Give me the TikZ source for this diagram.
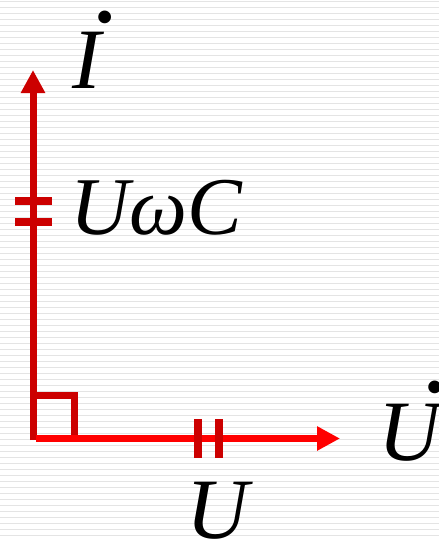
\documentclass[tikz,border=0pt]{standalone}
\usepackage{fontspec}
\setmainfont{Liberation Serif}
\usetikzlibrary{arrows.meta}
\definecolor{rojooscuro}{HTML}{CC0000}
\definecolor{rojo}{HTML}{FF0000}
\definecolor{raya}{HTML}{E4E4E4}
\newcommand{\punto}{\fontsize{120}{120}\selectfont ˙}

\begin{document}
\begin{tikzpicture}[
        x=1pt,
        y=-1pt,
        eje/.style={
            line width=7pt,
            -{Triangle[length=23pt,width=23pt]}
        },
        marca/.style={
            draw=rojooscuro,
            line width=8pt
        },
        every node/.style={
            inner sep=0pt,
            anchor=base west,
            font=\fontsize{86}{86}\selectfont\itshape
        }
    ]

    % Fondo
    \useasboundingbox[fill=white] (0,0) rectangle (439,542);
    \foreach \k in {0,...,89}
        \draw[raya, line width=1.6pt] (0,1.3+6*\k) -- (439,1.3+6*\k);

    % Puntos
    \coordinate (O) at (33,440);
    \coordinate (Oh) at (36,438.5);
    \coordinate (Itip) at (33,70);
    \coordinate (Utip) at (340,438.5);

    % Ejes
    \draw[eje, draw=rojooscuro, fill=rojooscuro] (O) -- (Itip);
    \draw[eje, draw=rojo, fill=rojo] (Oh) -- (Utip);
    \draw[rojooscuro, line width=7pt] (37,395) -- (74.5,395) -- (74.5,435);

    % Marcas
    \draw[marca] (198,419) -- (198,458);
    \draw[marca] (219,419) -- (219,458);
    \draw[marca] (15,201) -- (52,201);
    \draw[marca] (15,222) -- (52,222);

    % Etiquetas
    \node (labI) at (72,88) {I\llap{\raisebox{-2.4pt}{\punto}\kern-16.7pt}};
    \node[font=\fontsize{82}{82}\selectfont\itshape] (labUwC) at (70,234) {UωC};
    \node (labUpunto) at (378,460) {U\llap{\raisebox{-0.4pt}{\punto}\kern-7.6pt}};
    \node (labU) at (186,538) {U};

\end{tikzpicture}
\end{document}
